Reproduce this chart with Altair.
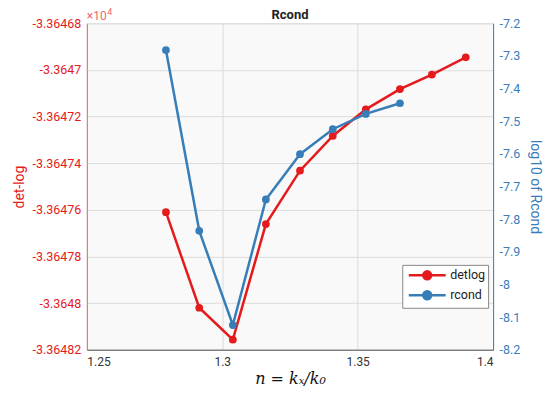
import altair as alt
import pandas as pd

# ---- data ----
n_detlog = [1.2792, 1.2915, 1.3039, 1.3161, 1.3287, 1.3408, 1.3530, 1.3656, 1.3774, 1.3899]
detlog = [-3.364761, -3.364802, -3.3648157, -3.3647661, -3.3647432,
          -3.3647283, -3.3647169, -3.3647082, -3.3647020, -3.3646946]
n_rcond = [1.2792, 1.2915, 1.3039, 1.3161, 1.3287, 1.3408, 1.3530, 1.3656]
rcond = [-7.2817, -7.8357, -8.1244, -7.7397, -7.6010, -7.5245, -7.4776, -7.4449]

x_ticks = [1.25, 1.3, 1.35, 1.4]
left_ticks = [-3.36468, -3.3647, -3.36472, -3.36474, -3.36476, -3.36478, -3.3648, -3.36482]
right_ticks = [-7.2, -7.3, -7.4, -7.5, -7.6, -7.7, -7.8, -7.9, -8.0, -8.1, -8.2]
series_names = ["detlog", "rcond"]
title_text = ["Rcond"]
exponent_base = ["×10"]
exponent_power = ["4"]

RED = "#e41a1c"
BLUE = "#377eb8"
LRED = "#ee6a6c"
LBLUE = "#3a7dbb"

W, H = 407, 327

df_red = pd.DataFrame({"n": n_detlog, "v": detlog, "series": "detlog"})
df_blue = pd.DataFrame({"n": n_rcond, "v": rcond, "series": "rcond"})

color = alt.Color(
    "series:N",
    scale=alt.Scale(domain=series_names, range=[RED, BLUE]),
    legend=alt.Legend(
        title=None,
        orient="none",
        legendX=316,
        legendY=242,
        fillColor="white",
        strokeColor="#888888",
        padding=3,
        labelFontSize=12.5,
        labelFont="Roboto",
        labelColor="#222222",
        symbolType="M-3.08,0L3.08,0M-0.67,0a0.67,0.67 0 1,0 1.34,0a0.67,0.67 0 1,0 -1.34,0",
        symbolSize=144,
        symbolStrokeWidth=2.5,
        symbolOffset=14.5,
        labelOffset=15.5,
        rowPadding=1,
    ),
)

x_enc = alt.X(
    "n:Q",
    scale=alt.Scale(domain=[1.25, 1.4], nice=False, zero=False),
    axis=alt.Axis(
        values=x_ticks,
        format="~g",
        title="n = kₓ/k₀",
        titleFont="DejaVu Serif",
        titleFontStyle="italic",
        titleFontWeight="normal",
        titleFontSize=16,
        titleColor="#111111",
        titlePadding=3,
        labelFont="Roboto",
        labelFontSize=12,
        labelColor="#333333",
        labelPadding=7,
        domainColor="#555555",
        ticks=False,
        grid=True,
        gridColor="#dcdcdc",
    ),
)

y_left = alt.Y(
    "v:Q",
    scale=alt.Scale(domain=[-3.36482, -3.36468], nice=False, zero=False),
    axis=alt.Axis(
        orient="left",
        values=left_ticks,
        labelExpr="replace(format(datum.value, '.6~g'), '−', '-')",
        title="det-log",
        titleColor=RED,
        titleFont="Roboto",
        titleFontSize=14,
        titleFontWeight="normal",
        titlePadding=6,
        labelFont="Roboto",
        labelFontSize=12.5,
        labelColor=RED,
        labelPadding=6,
        domainColor=LRED,
        ticks=False,
        grid=True,
        gridColor="#dcdcdc",
    ),
)

y_right = alt.Y(
    "v:Q",
    scale=alt.Scale(domain=[-8.2, -7.2], nice=False, zero=False),
    axis=alt.Axis(
        orient="right",
        values=right_ticks,
        labelExpr="replace(format(datum.value, '~g'), '−', '-')",
        title="log10 of Rcond",
        titleColor=LBLUE,
        titleFont="Roboto",
        titleFontSize=14,
        titleFontWeight="normal",
        titlePadding=8,
        labelFont="Roboto",
        labelFontSize=12.5,
        labelColor=LBLUE,
        labelPadding=6,
        domainColor=LBLUE,
        ticks=False,
        grid=False,
    ),
)

base_red = alt.Chart(df_red).encode(x=x_enc, y=y_left, color=color)
red = base_red.mark_line(strokeWidth=2.5) + base_red.mark_point(filled=True, size=60, opacity=1)

base_blue = alt.Chart(df_blue).encode(x=x_enc, y=y_right, color=color)
blue = base_blue.mark_line(strokeWidth=2.5) + base_blue.mark_point(filled=True, size=60, opacity=1)

exp_base = alt.Chart(pd.DataFrame({"t": exponent_base})).mark_text(
    align="left", baseline="alphabetic", color=LRED, fontSize=12, font="Roboto"
).encode(text="t:N", x=alt.value(0), y=alt.value(-3))

exp_pow = alt.Chart(pd.DataFrame({"t": exponent_power})).mark_text(
    align="left", baseline="alphabetic", color=LRED, fontSize=9, font="Roboto"
).encode(text="t:N", x=alt.value(20.5), y=alt.value(-8.5))

title_label = alt.Chart(pd.DataFrame({"t": title_text})).mark_text(
    align="center", baseline="alphabetic", color="#222222", fontSize=13,
    fontWeight="bold", font="Roboto"
).encode(text="t:N", x=alt.value(W / 2), y=alt.value(-4))

chart = (
    alt.layer(red, blue, exp_base, exp_pow, title_label)
    .resolve_scale(y="independent")
    .properties(
        width=W,
        height=H,
        autosize=alt.AutoSizeParams(type="none"),
        padding={"left": 79, "top": 15, "right": 52, "bottom": 38},
    )
    .configure_view(fill="#f9f9f9", stroke="#dddddd")
)

chart.save("out.html", embed_options={"renderer": "svg", "actions": False})
